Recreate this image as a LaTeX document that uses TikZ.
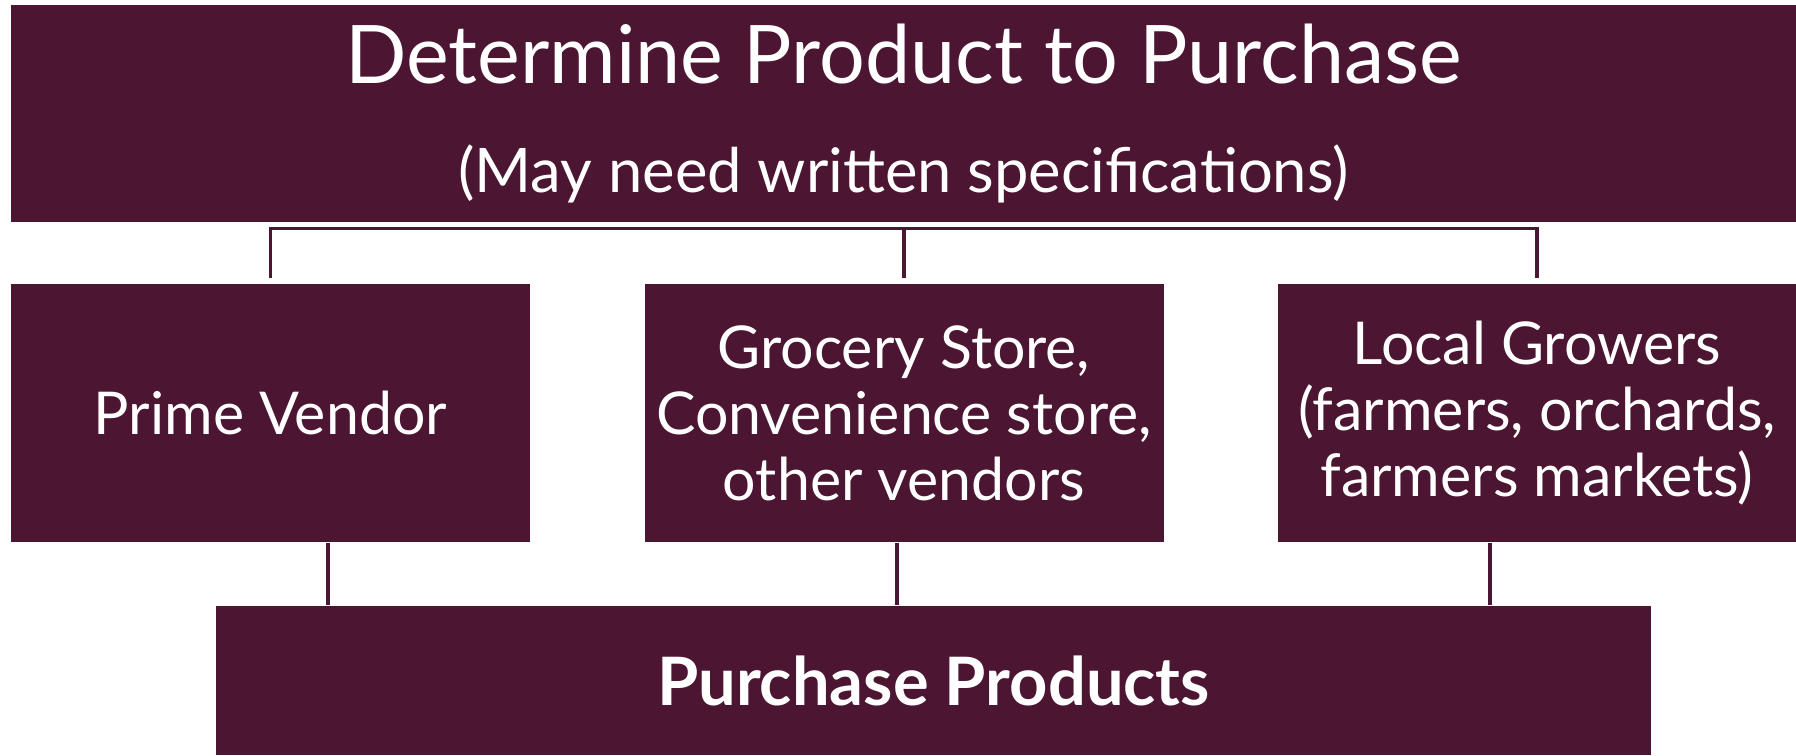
\documentclass[tikz,border=0pt]{standalone}
\usepackage{fontspec}
\setmainfont{Lato}
\usetikzlibrary{positioning,calc}
\definecolor{wine}{HTML}{4C1632}

\begin{document}
\begin{tikzpicture}[
  block/.style={
    rectangle, fill=wine, text=white, inner sep=0pt,
    minimum width=5.19cm, minimum height=2.58cm,
    align=center, font=\fontsize{16.8}{18.8}\selectfont
  },
  link/.style={draw=wine, line width=0.9pt}
]
\useasboundingbox (0,0) rectangle (17.96,-7.55);

% Blocks
\node[block, minimum width=17.85cm, minimum height=2.17cm,
  font=\fontsize{17.5}{31}\selectfont] (top) at (9.035,-1.135)
  {{\fontsize{23}{31}\selectfont Determine Product to Purchase}\\
   (May need written specifications)};

\node[block] (prime) at (2.705,-4.13) {Prime Vendor};

\node[block] (grocery) at (9.04,-4.13) {Grocery Store,\\
  Convenience store,\\ other vendors};

\node[block] (local) at (15.37,-4.13) {Local Growers\\
  (farmers, orchards,\\ farmers markets)};

\node[block, minimum width=14.35cm, minimum height=1.49cm,
  font=\bfseries\fontsize{19}{22}\selectfont] (buy) at (9.335,-6.805)
  {Purchase Products};

% Edges
\coordinate (fork) at ($(top.south)+(0,-0.06)$);
\draw[link] ([yshift=0.05cm]prime.north) |- (fork) -| ([yshift=0.05cm]local.north);
\draw[link] ([yshift=0.05cm]grocery.north) -- (grocery.north |- fork);

\draw[link] ([xshift=0.575cm]prime.south) -- ([xshift=0.575cm]prime.south |- buy.north);
\draw[link] ([xshift=-0.07cm]grocery.south) -- ([xshift=-0.07cm]grocery.south |- buy.north);
\draw[link] ([xshift=-0.47cm]local.south) -- ([xshift=-0.47cm]local.south |- buy.north);

\end{tikzpicture}
\end{document}
